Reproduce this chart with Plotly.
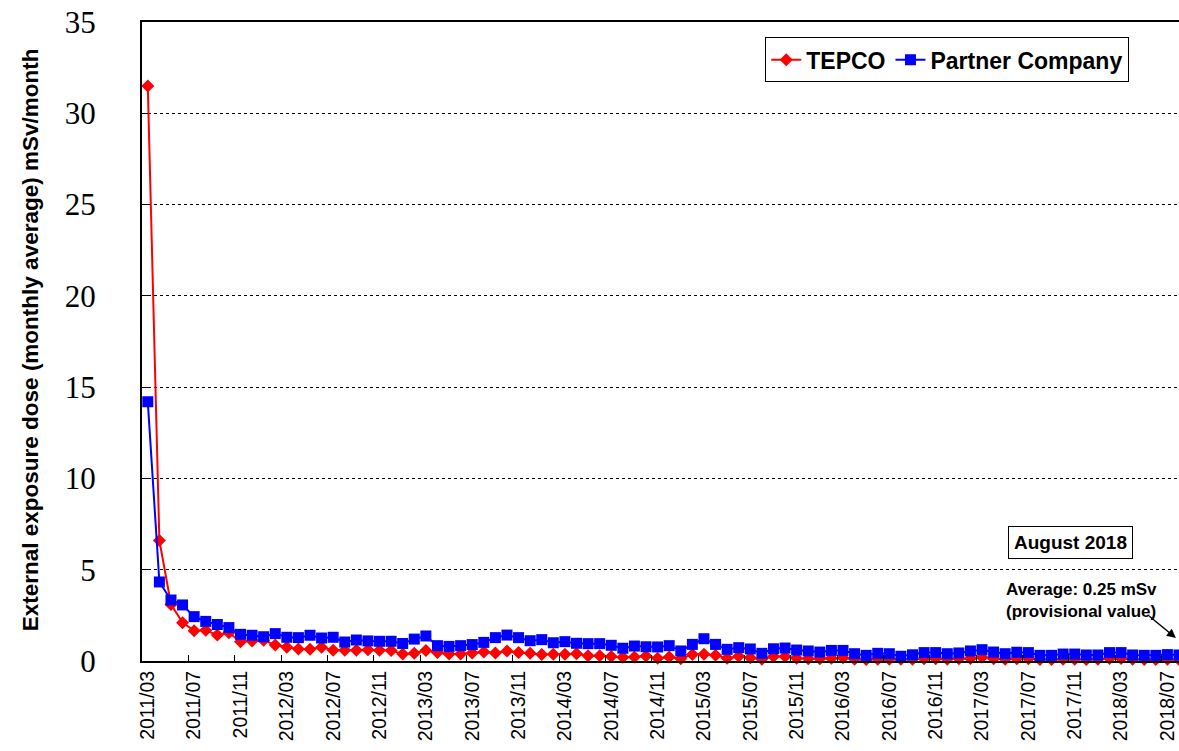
import plotly.graph_objects as go

# Months 2011/03 .. 2018/08
months = []
y, m = 2011, 3
while (y, m) <= (2018, 8):
    months.append(f"{y}/{m:02d}")
    m += 1
    if m > 12:
        m = 1
        y += 1

tepco = [31.5, 6.6, 3.1, 2.1, 1.66, 1.68, 1.42, 1.55, 1.06, 1.10,
         1.13, 0.88, 0.75, 0.66, 0.64, 0.75, 0.59, 0.59, 0.59, 0.62,
         0.59, 0.57, 0.38, 0.42, 0.58, 0.46, 0.38, 0.38, 0.44, 0.49,
         0.44, 0.55, 0.46, 0.42, 0.35, 0.37, 0.37, 0.40, 0.29, 0.29,
         0.24, 0.20, 0.22, 0.27, 0.15, 0.22, 0.12, 0.35, 0.37, 0.31,
         0.15, 0.26, 0.18, 0.10, 0.24, 0.24, 0.15, 0.12, 0.12, 0.15,
         0.18, 0.10, 0.08, 0.10, 0.10, 0.10, 0.10, 0.12, 0.12, 0.10,
         0.12, 0.14, 0.20, 0.12, 0.10, 0.12, 0.12, 0.08, 0.08, 0.10,
         0.10, 0.08, 0.10, 0.14, 0.14, 0.10, 0.08, 0.08, 0.10, 0.08]

partner = [14.2, 4.33, 3.34, 3.07, 2.43, 2.17, 2.00, 1.83, 1.46, 1.41,
           1.33, 1.50, 1.30, 1.28, 1.41, 1.26, 1.30, 1.04, 1.15, 1.10,
           1.08, 1.08, 0.96, 1.20, 1.37, 0.84, 0.80, 0.84, 0.90, 1.02,
           1.28, 1.42, 1.28, 1.11, 1.17, 1.00, 1.06, 0.97, 0.95, 0.95,
           0.86, 0.70, 0.82, 0.78, 0.77, 0.84, 0.55, 0.91, 1.22, 0.91,
           0.64, 0.73, 0.66, 0.42, 0.67, 0.71, 0.60, 0.55, 0.49, 0.58,
           0.58, 0.40, 0.31, 0.42, 0.40, 0.26, 0.34, 0.46, 0.46, 0.40,
           0.44, 0.55, 0.62, 0.49, 0.40, 0.48, 0.46, 0.31, 0.31, 0.38,
           0.38, 0.33, 0.33, 0.46, 0.46, 0.33, 0.31, 0.31, 0.35, 0.33]

y_ticks = [0, 5, 10, 15, 20, 25, 30, 35]

fig = go.Figure()
fig.add_trace(go.Scatter(
    x=months, y=tepco, name="TEPCO", mode="lines+markers",
    line=dict(color="#FF0000", width=2),
    marker=dict(symbol="diamond", size=10, color="#FF0000"),
    cliponaxis=False))
fig.add_trace(go.Scatter(
    x=months, y=partner, name="Partner Company", mode="lines+markers",
    line=dict(color="#0000FF", width=2),
    marker=dict(symbol="square", size=11, color="#0000FF"),
    cliponaxis=False))

fig.update_layout(
    width=1179, height=751,
    margin=dict(l=142, r=0, t=22, b=90),
    paper_bgcolor="white", plot_bgcolor="white",
    font=dict(family="Liberation Sans, Arial, sans-serif", color="black"),
    legend=dict(
        orientation="h", x=0.601, xanchor="left", y=0.976, yanchor="top",
        bordercolor="black", borderwidth=1, bgcolor="white",
        font=dict(size=23, weight="bold", color="black"),
        itemwidth=30, tracegroupgap=0),
    xaxis=dict(
        type="category", categoryorder="array", categoryarray=months,
        range=[-0.5, 89.0], dtick=4, tickangle=-90,
        tickson="boundaries", ticks="inside", ticklen=6, tickcolor="black",
        tickfont=dict(size=19.5, color="black", family="Liberation Sans, Arial"),
        showline=True, linecolor="black", linewidth=2, mirror=True,
        showgrid=False, zeroline=False, automargin=False),
    yaxis=dict(
        range=[0, 35], tickvals=y_ticks, ticks="inside", ticklen=6,
        tickcolor="black", ticklabelstandoff=38,
        tickfont=dict(size=31, color="black", family="Liberation Serif, Times New Roman, serif"),
        showline=True, linecolor="black", linewidth=2,
        showgrid=True, gridcolor="black", gridwidth=1, griddash="dot",
        zeroline=False, automargin=False),
)

# y-axis title
fig.add_annotation(
    xref="paper", yref="paper", x=-0.108, y=0.502,
    xanchor="center", yanchor="middle", textangle=-90,
    text="External exposure dose (monthly average) mSv/month",
    showarrow=False, font=dict(size=22.5, weight="bold", color="black"))

fig.add_annotation(
    xref="paper", yref="paper", x=0.895, y=0.186,
    xanchor="center", yanchor="middle",
    text="August 2018", showarrow=False,
    font=dict(size=19, weight="bold", color="black"),
    bordercolor="black", borderwidth=1, borderpad=5, bgcolor="white")

fig.add_annotation(
    xref="paper", yref="paper", x=0.9055, y=0.094,
    text="Average: 0.25 mSv<br>(provisional value)", showarrow=False,
    align="left", xanchor="center", yanchor="middle",
    font=dict(size=17, weight="bold", color="black"))

fig.add_annotation(
    xref="paper", yref="y", x=0.997, y=1.26, text="",
    showarrow=True, arrowhead=2, arrowsize=1.2, arrowwidth=1.5,
    arrowcolor="black", ax=-28, ay=-23)

fig.write_html("out.html",
               config={"displayModeBar": False},
               post_script="document.body.style.margin='0px';document.body.style.overflow='hidden';")
